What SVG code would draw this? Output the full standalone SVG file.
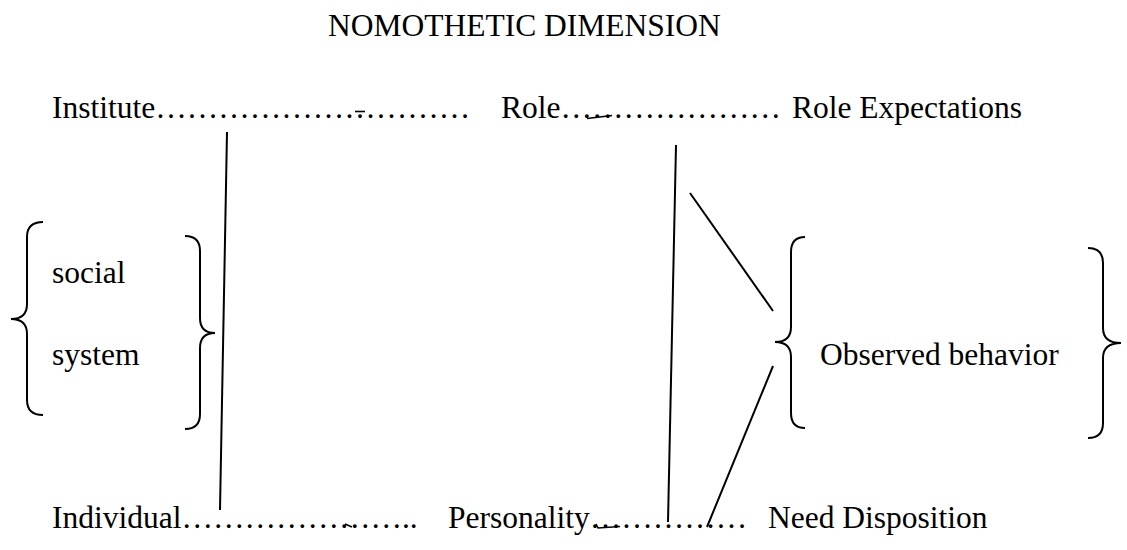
<svg xmlns="http://www.w3.org/2000/svg" width="1127" height="550" viewBox="0 0 1127 550">
<style>
.t{font-family:'Liberation Serif','Tinos','Times New Roman','DejaVu Serif',serif;font-size:31.5px;fill:#000}
.ln{stroke:#000;stroke-width:2;fill:none;stroke-linecap:butt}
.br{stroke:#000;stroke-width:2;fill:none}
.mk{stroke:#000;stroke-width:1.6;fill:none}
</style>
<rect width="1127" height="550" fill="#fff"/>
<g id="title"><text class="t" x="328" y="36">NOMOTHETIC DIMENSION</text></g>
<g id="institute"><text class="t" x="52" y="118">Institute<tspan>&#8230;&#8230;&#8230;&#8230;&#8230;&#8230;&#8230;&#8230;&#8230;&#8230;</tspan></text></g>
<g id="role"><text class="t" x="501" y="118">Role<tspan>&#8230;&#8230;&#8230;&#8230;&#8230;&#8230;&#8230;</tspan></text></g>
<g id="role-expectations"><text class="t" x="792" y="118">Role Expectations</text></g>
<g id="social-system">
<text class="t" x="52" y="283">social</text>
<text class="t" x="52" y="365">system</text>
<path class="br" d="M43 222 Q27 222 27 237 L27 304 Q27 319 11 319 Q27 319 27 334 L27 400 Q27 415 43 415"/>
<path class="br" d="M185 236 Q200 236 200 251 L200 318 Q200 333 215 333 Q200 333 200 348 L200 414 Q200 429 185 429"/>
</g>
<g id="observed-behavior">
<text class="t" x="820" y="365">Observed behavior</text>
<path class="br" d="M805 237 Q791 237 791 252 L791 327 Q791 342 775 342 Q791 342 791 357 L791 413 Q791 428 805 428"/>
<path class="br" d="M1088 248 Q1103 248 1103 263 L1103 328 Q1103 343 1121 343 Q1103 343 1103 358 L1103 423 Q1103 438 1088 438"/>
</g>
<g id="individual"><text class="t" x="52" y="528">Individual<tspan>&#8230;&#8230;&#8230;&#8230;&#8230;&#8230;&#8230;..</tspan></text></g>
<g id="personality"><text class="t" x="448" y="528">Personality<tspan>&#8230;&#8230;&#8230;&#8230;&#8230;</tspan></text></g>
<g id="need-disposition"><text class="t" x="768" y="528">Need Disposition</text></g>
<g id="connectors">
<line class="ln" x1="227" y1="132" x2="220" y2="510"/>
<line class="ln" x1="676" y1="145" x2="668" y2="522"/>
<line class="ln" x1="690" y1="193" x2="773" y2="311"/>
<line class="ln" x1="773" y1="366" x2="707" y2="527"/>
<line class="mk" x1="355" y1="111.5" x2="365" y2="111.5"/>
<line class="mk" x1="587" y1="118.5" x2="612" y2="115.5"/>
<line class="mk" x1="345" y1="524" x2="352" y2="527"/>
<path class="mk" d="M596 524 L598 528 L620 526.5"/>
</g>
</svg>
